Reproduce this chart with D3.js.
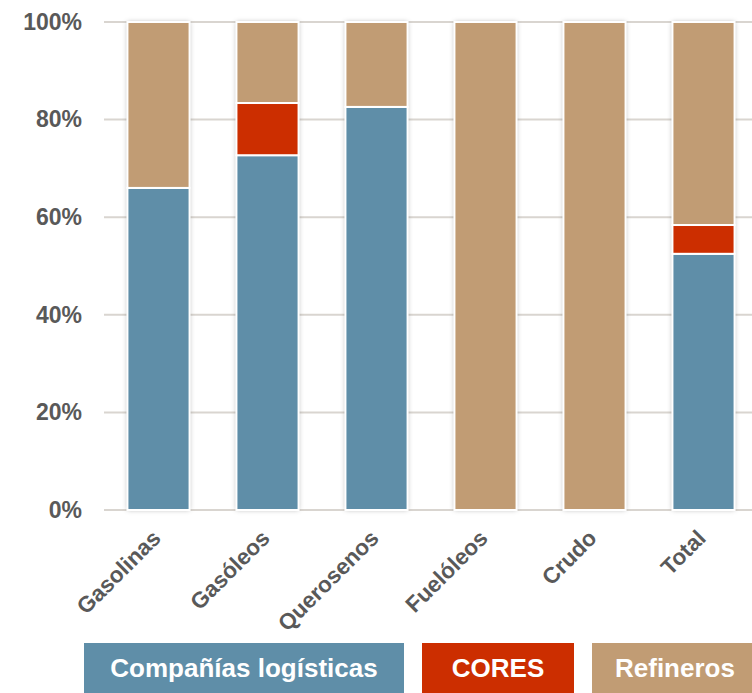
<!DOCTYPE html>
<html>
<head>
<meta charset="utf-8">
<script src="https://cdn.jsdelivr.net/npm/d3@7"></script>
<style>
  body { margin: 0; background: #fff; }
  svg { display: block; font-family: "Liberation Sans", Arial, sans-serif; }
</style>
</head>
<body>
<div id="chart"></div>
<script>
// Data (shares in %)
var categories = ["Gasolinas", "Gasóleos", "Querosenos", "Fuelóleos", "Crudo", "Total"];
var series = ["Compañías logísticas", "CORES", "Refineros"];
var logisticas = [66.0, 72.7, 82.6, 0, 0, 52.5];
var cores = [0, 10.7, 0, 0, 0, 5.9];
var refineros = [34.0, 16.6, 17.4, 100, 100, 41.6];
var yTicks = [0, 20, 40, 60, 80, 100];
var colors = ["#5f8ea8", "#cc2e00", "#c19c74"];

var w = 752, h = 693;
var margin = {top: 22, right: -6, bottom: 183, left: 104};
var width = w - margin.left - margin.right;
var height = h - margin.top - margin.bottom;

var svg = d3.select("#chart")
  .append("svg")
    .attr("width", w)
    .attr("height", h);

// soft shadow round the bars
var filter = svg.append("defs").append("filter")
  .attr("id", "shadow")
  .attr("x", "-20%").attr("y", "-5%")
  .attr("width", "140%").attr("height", "110%");
filter.append("feDropShadow")
  .attr("dx", 0).attr("dy", 0)
  .attr("stdDeviation", 2.4)
  .attr("flood-color", "#000")
  .attr("flood-opacity", 0.3);

var chart = svg.append("g")
  .attr("transform", "translate(" + margin.left + "," + margin.top + ")");

// Scales
var xScale = d3.scaleBand().domain(categories).range([0, width])
  .paddingInner(0.43).paddingOuter(0.215);
var yScale = d3.scaleLinear().domain([0, 100]).range([height, 0]);

// Gridlines
chart.append("g").selectAll("line").data(yTicks).enter().append("line")
  .attr("x1", 0)
  .attr("x2", width)
  .attr("y1", function(d) { return yScale(d); })
  .attr("y2", function(d) { return yScale(d); })
  .attr("stroke", "#d9d5d0")
  .attr("stroke-width", 2);

// Y axis
var yAxis = d3.axisLeft(yScale).tickValues(yTicks)
  .tickFormat(function(d) { return d + "%"; })
  .tickSize(0).tickPadding(22);
chart.append("g").call(yAxis)
  .call(function(g) { g.select(".domain").remove(); })
  .selectAll("text")
  .attr("fill", "#595959")
  .attr("font-size", "23px")
  .attr("font-weight", 700)
  .attr("font-family", "Liberation Sans, Arial, sans-serif");

// Stack the data
var table = categories.map(function(c, i) {
  return {cat: c, s0: logisticas[i], s1: cores[i], s2: refineros[i]};
});
var stack = d3.stack().keys(["s0", "s1", "s2"]);
var layers = stack(table);

// bar shadows (one per column)
chart.append("g").selectAll("rect").data(categories).enter().append("rect")
  .attr("x", function(d) { return xScale(d); })
  .attr("y", yScale(100))
  .attr("width", xScale.bandwidth())
  .attr("height", height - yScale(100))
  .attr("fill", "#fff")
  .attr("filter", "url(#shadow)");

// Create bars
chart.append("g").selectAll("g").data(layers).enter().append("g")
  .attr("fill", function(d, i) { return colors[i]; })
  .selectAll("rect").data(function(d) { return d.filter(function(p) { return p[1] - p[0] > 0; }); })
  .enter().append("rect")
    .attr("x", function(d) { return xScale(d.data.cat); })
    .attr("y", function(d) { return yScale(d[1]); })
    .attr("width", xScale.bandwidth())
    .attr("height", function(d) { return yScale(d[0]) - yScale(d[1]); })
    .attr("stroke", "#fff")
    .attr("stroke-width", 2);

// X axis labels
var xAxis = d3.axisBottom(xScale).tickSize(0).tickPadding(0);
chart.append("g")
  .attr("transform", "translate(0," + height + ")")
  .call(xAxis)
  .call(function(g) { g.select(".domain").remove(); })
  .selectAll("text")
  .attr("transform", "translate(-2,24)rotate(-45)")
  .attr("dy", "0.35em")
  .attr("fill", "#595959")
  .attr("font-size", "22.5px")
  .attr("font-weight", 700)
  .attr("font-family", "Liberation Sans, Arial, sans-serif")
  .style("text-anchor", "end");

// Legend
var legendX = [84, 422, 592];
var legendW = [320, 152, 170];
var legend = svg.append("g").selectAll("g").data(series).enter().append("g")
  .attr("transform", function(d, i) { return "translate(" + legendX[i] + ",643)"; });
legend.append("rect")
  .attr("width", function(d, i) { return legendW[i]; })
  .attr("height", 50)
  .attr("fill", function(d, i) { return colors[i]; });
legend.append("text")
  .attr("x", function(d, i) { return i == 2 ? 23 : legendW[i] / 2; })
  .attr("y", 34)
  .attr("text-anchor", function(d, i) { return i == 2 ? "start" : "middle"; })
  .attr("fill", "#fff")
  .attr("font-size", "26px")
  .attr("font-weight", 700)
  .text(function(d) { return d; });
</script>
</body>
</html>
